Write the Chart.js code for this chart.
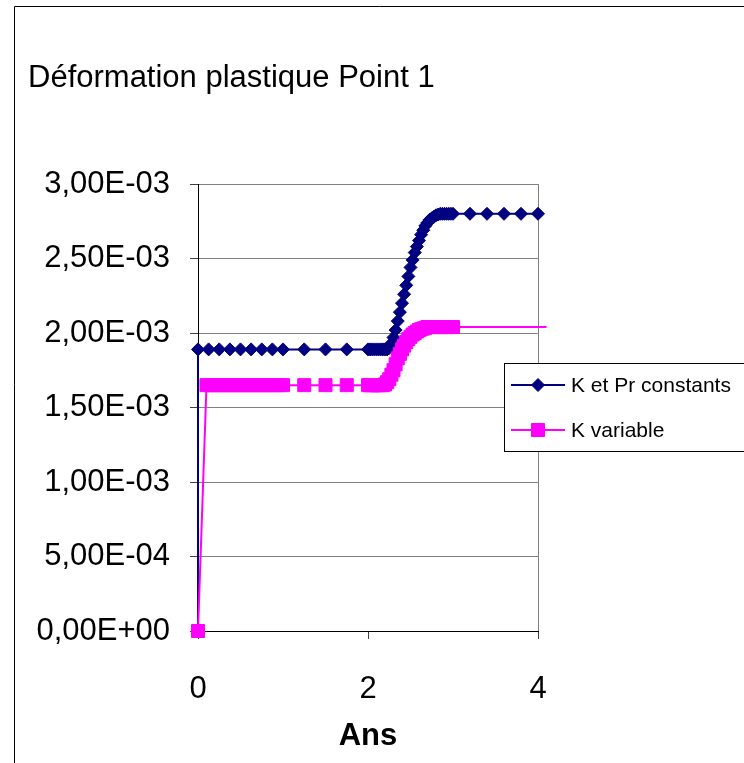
<!DOCTYPE html>
<html>
<head>
<meta charset="utf-8">
<title>Déformation plastique Point 1</title>
<script src="https://cdn.jsdelivr.net/npm/chart.js@4.4.1/dist/chart.umd.min.js"></script>
<style>
    html, body { margin: 0; padding: 0; background: #fff; }
    canvas { display: block; }
</style>
</head>
<body>
<canvas id="deformChart" width="744" height="763"></canvas>
<script>
// Series 1: K et Pr constants (years, plastic strain)
const constX = [
    0, 0, 0.125, 0.25, 0.375, 0.5, 0.625, 0.75, 0.875, 1.0, 1.25, 1.5, 1.75,
    2.000, 2.025, 2.050, 2.075, 2.100, 2.125, 2.150, 2.175, 2.200, 2.225,
    2.250, 2.275, 2.300, 2.325, 2.350, 2.375, 2.400, 2.425, 2.450, 2.475,
    2.500, 2.525, 2.550, 2.575, 2.600, 2.625, 2.650, 2.675, 2.700, 2.725,
    2.750, 2.775, 2.800, 2.825, 2.850, 2.875, 2.900, 2.925, 2.950, 2.975,
    3.000, 3.2, 3.4, 3.6, 3.8, 4.0
];
const constY = [
    0, 0.00189, 0.00189, 0.00189, 0.00189, 0.00189, 0.00189, 0.00189, 0.00189, 0.00189, 0.00189, 0.00189, 0.00189,
    0.00189, 0.00189, 0.00189, 0.00189, 0.00189, 0.00189, 0.00189, 0.00189, 0.00189, 0.00189,
    0.00190, 0.00193, 0.00197, 0.00202, 0.00208, 0.00214, 0.00220, 0.00226, 0.00232, 0.00238,
    0.00244, 0.00249, 0.00254, 0.00258, 0.00262, 0.00266, 0.00269, 0.00272, 0.00274, 0.00276,
    0.00277, 0.00278, 0.00279, 0.002795, 0.00280, 0.00280, 0.00280, 0.00280, 0.00280, 0.00280,
    0.00280, 0.00280, 0.00280, 0.00280, 0.00280, 0.00280
];

// Series 2: K variable
const varX = [
    0, 0.10, 0.15, 0.20, 0.25, 0.30, 0.35, 0.40, 0.45, 0.50, 0.55, 0.60, 0.65, 0.70, 0.75, 0.80, 0.85, 0.90, 0.95, 1.00,
    1.25, 1.5, 1.75,
    2.000, 2.025, 2.050, 2.075, 2.100, 2.125, 2.150, 2.175, 2.200, 2.225,
    2.250, 2.275, 2.300, 2.325, 2.350, 2.375, 2.400, 2.425, 2.450, 2.475,
    2.500, 2.525, 2.550, 2.575, 2.600, 2.625, 2.650, 2.675, 2.700, 2.725,
    2.750, 2.775, 2.800, 2.825, 2.850, 2.875, 2.900, 2.925, 2.950, 2.975,
    3.000, 4.1
];
const varY = [
    0, 0.00165, 0.00165, 0.00165, 0.00165, 0.00165, 0.00165, 0.00165, 0.00165, 0.00165, 0.00165, 0.00165, 0.00165, 0.00165, 0.00165, 0.00165, 0.00165, 0.00165, 0.00165, 0.00165,
    0.00165, 0.00165, 0.00165,
    0.00165, 0.00165, 0.00165, 0.00165, 0.00165, 0.00165, 0.00165, 0.00165, 0.001655, 0.00167,
    0.00169, 0.00172, 0.00175, 0.00179, 0.00183, 0.00186, 0.00189, 0.001915, 0.00194, 0.00196,
    0.001975, 0.00199, 0.00200, 0.00201, 0.00202, 0.002025, 0.00203, 0.002035, 0.00204, 0.00204,
    0.00204, 0.00204, 0.00204, 0.00204, 0.00204, 0.00204, 0.00204, 0.00204, 0.00204, 0.00204,
    0.00204, 0.00204
];

const seriesLabels = ['K et Pr constants', 'K variable'];
const xTicks = [0, 2, 4];
const yTicks = [0, 0.0005, 0.001, 0.0015, 0.002, 0.0025, 0.003];

const FONT = "'Liberation Sans', Arial, sans-serif";
const NAVY = '#000080';
const MAGENTA = '#FF00FF';

function toPoints(xs, ys) {
    return xs.map((x, i) => ({ x: x, y: ys[i] }));
}

// "1,50E-03" style labels
function sciLabel(v) {
    if (Math.abs(v) < 1e-12) return '0,00E+00';
    const parts = v.toExponential(2).split('e');
    const exp = parseInt(parts[1], 10);
    return parts[0].replace('.', ',') + 'E' + (exp < 0 ? '-' : '+') + String(Math.abs(exp)).padStart(2, '0');
}

function drawMarker(ctx, style, x, y, fill) {
    ctx.save();
    ctx.fillStyle = fill;
    ctx.strokeStyle = fill;
    ctx.lineWidth = 1;
    ctx.beginPath();
    if (style === 'rectRot') {
        ctx.moveTo(x - 6.5, y);
        ctx.lineTo(x, y - 6.5);
        ctx.lineTo(x + 6.5, y);
        ctx.lineTo(x, y + 6.5);
    } else {
        ctx.rect(x - 6.5, y - 6.5, 13, 13);
    }
    ctx.closePath();
    ctx.fill();
    ctx.stroke();
    ctx.restore();
}

// Page frame, title and legend box
const sheetDecor = {
    id: 'sheetDecor',
    beforeDraw(chart) {
        const ctx = chart.ctx;
        ctx.save();
        ctx.fillStyle = '#fff';
        ctx.fillRect(0, 0, chart.width, chart.height);
        ctx.strokeStyle = '#000';
        ctx.lineWidth = 1;
        ctx.beginPath();
        ctx.moveTo(14.5, chart.height);
        ctx.lineTo(14.5, 6.5);
        ctx.lineTo(chart.width, 6.5);
        ctx.stroke();

        ctx.fillStyle = '#000';
        ctx.font = '31px ' + FONT;
        ctx.textBaseline = 'alphabetic';
        ctx.textAlign = 'left';
        ctx.fillText('Déformation plastique Point 1', 28, 87);
        ctx.restore();
    },
    afterDatasetsDraw(chart) {
        const ctx = chart.ctx;
        ctx.save();
        ctx.fillStyle = '#fff';
        ctx.fillRect(504.5, 363.5, 260, 88);
        ctx.strokeStyle = '#000';
        ctx.lineWidth = 1;
        ctx.strokeRect(504.5, 363.5, 260, 88);

        const rows = [385, 430];
        ctx.font = '21px ' + FONT;
        ctx.textBaseline = 'middle';
        chart.data.datasets.forEach((ds, i) => {
            const y = rows[i];
            ctx.strokeStyle = ds.borderColor;
            ctx.lineWidth = 2;
            ctx.beginPath();
            ctx.moveTo(511, y);
            ctx.lineTo(565, y);
            ctx.stroke();
            drawMarker(ctx, ds.pointStyle, 538, y, ds.backgroundColor);
            ctx.fillStyle = '#000';
            ctx.fillText(ds.label, 571, y + 1);
        });
        ctx.restore();
    }
};

const ctx = document.getElementById('deformChart');

new Chart(ctx, {
    type: 'line',
    data: {
        datasets: [
            {
                label: seriesLabels[0],
                data: toPoints(constX, constY),
                borderColor: NAVY,
                backgroundColor: NAVY,
                borderWidth: 2,
                pointStyle: 'rectRot',
                pointRadius: 6.5,
                pointBorderWidth: 1,
                tension: 0,
                clip: false,
                order: 2
            },
            {
                label: seriesLabels[1],
                data: toPoints(varX, varY),
                borderColor: MAGENTA,
                backgroundColor: MAGENTA,
                borderWidth: 2,
                pointStyle: 'rect',
                pointRadius: c => (c.dataIndex === varX.length - 1 ? 0 : 9.2),
                pointBorderWidth: 1,
                tension: 0,
                clip: false,
                order: 1
            }
        ]
    },
    options: {
        responsive: false,
        animation: false,
        devicePixelRatio: 1,
        layout: {
            padding: { top: 184, right: 206, left: 0, bottom: 0 }
        },
        plugins: {
            legend: { display: false },
            title: { display: false },
            tooltip: { enabled: false }
        },
        scales: {
            x: {
                type: 'linear',
                min: 0,
                max: 4,
                afterFit: s => { s.height = 132; },
                afterBuildTicks: s => { s.ticks = xTicks.map(v => ({ value: v })); },
                ticks: {
                    color: '#000',
                    font: { family: FONT, size: 31 },
                    padding: 32,
                    maxRotation: 0
                },
                grid: {
                    drawOnChartArea: true,
                    color: c => (c.tick && c.tick.value === 4 ? '#808080' : 'rgba(0,0,0,0)'),
                    tickColor: '#404040',
                    tickLength: 8,
                    lineWidth: 1
                },
                border: { display: true, color: '#000', width: 1 },
                title: {
                    display: true,
                    text: 'Ans',
                    color: '#000',
                    font: { family: FONT, size: 31, weight: 'bold' },
                    padding: { top: 0, bottom: 8 }
                }
            },
            y: {
                min: 0,
                max: 0.003,
                afterFit: s => { s.width = 198; },
                afterBuildTicks: s => { s.ticks = yTicks.map(v => ({ value: v })); },
                ticks: {
                    color: '#000',
                    font: { family: FONT, size: 31 },
                    padding: 20,
                    callback: v => sciLabel(v)
                },
                grid: {
                    color: '#808080',
                    tickColor: '#404040',
                    tickLength: 8,
                    lineWidth: 1
                },
                border: { display: true, color: '#000', width: 1 }
            }
        }
    },
    plugins: [sheetDecor]
});
</script>
</body>
</html>
